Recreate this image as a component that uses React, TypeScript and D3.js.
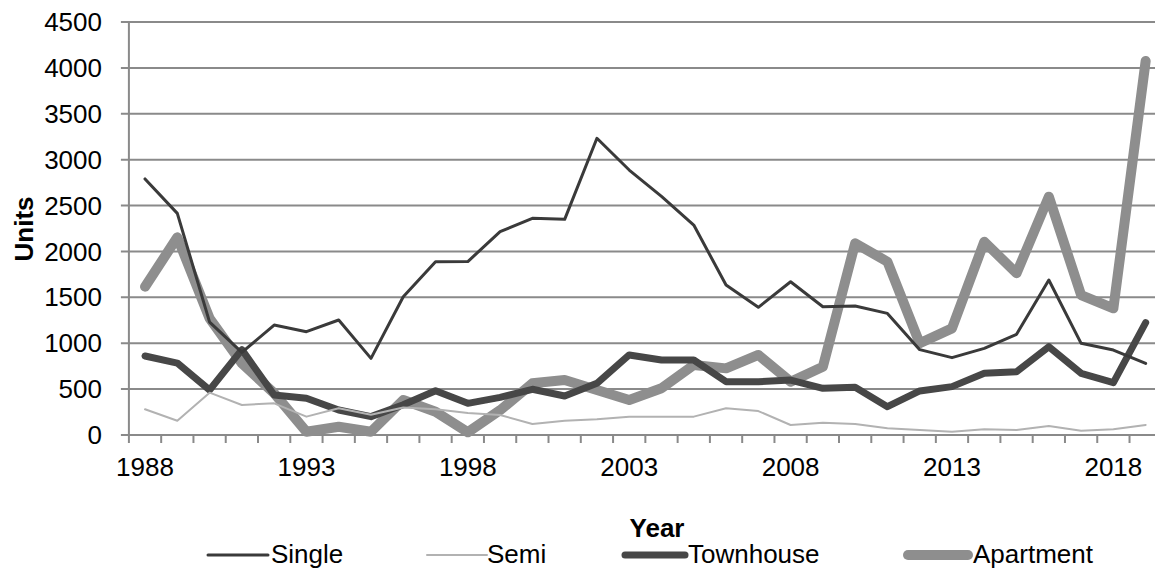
import * as d3 from "d3";

const width = 1155;
const height = 571;
const marginTop = 22;
const marginLeft = 128.9;
const plotRight = 1161.8;
const plotBottom = 435;

const years = d3.range(1988, 2020);
const yTicks = [0, 500, 1000, 1500, 2000, 2500, 3000, 3500, 4000, 4500];
const xLabels = [1988, 1993, 1998, 2003, 2008, 2013, 2018];

const single = [
  2790, 2415, 1230, 900, 1198, 1126, 1253, 835, 1507, 1888, 1890, 2215, 2361,
  2350, 3233, 2887, 2600, 2288, 1634, 1391, 1670, 1398, 1405, 1325, 930, 843,
  944, 1097, 1689, 999, 926, 781,
];
const semi = [
  280, 156, 461, 327, 345, 200, 291, 220, 300, 280, 240, 218, 120, 156, 171,
  200, 200, 200, 291, 261, 109, 134, 120, 73, 54, 36, 62, 54, 98, 47, 62, 109,
];
const townhouse = [
  861, 784, 490, 930, 436, 400, 272, 200, 330, 483, 345, 410, 498, 425, 563,
  872, 817, 817, 581, 581, 599, 509, 520, 309, 480, 527, 672, 690, 962, 672,
  570, 1224,
];
const apartment = [
  1616, 2154, 1271, 780, 455, 36, 90, 36, 381, 254, 30, 270, 563, 599, 490,
  381, 509, 763, 726, 872, 581, 744, 2089, 1888, 999, 1162, 2106, 1762, 2597,
  1525, 1380, 4075,
];

const series = [
  { name: "Single", values: single, color: "#3a3a3a", width: 3, legendX: 208, textX: 271 },
  { name: "Semi", values: semi, color: "#b2b2b2", width: 2, legendX: 427, textX: 487 },
  { name: "Townhouse", values: townhouse, color: "#474747", width: 7, legendX: 625, textX: 688 },
  { name: "Apartment", values: apartment, color: "#8e8e8e", width: 10, legendX: 908, textX: 973 },
];

const font = "'Liberation Sans', Arial, sans-serif";

const App = () => {
  const x = d3
    .scaleLinear()
    .domain([1987.5, 2019.5])
    .range([marginLeft, plotRight]);

  const y = d3.scaleLinear().domain([0, 4500]).range([plotBottom, marginTop]);

  const lineBuilder = d3
    .line<number>()
    .x((_, i) => x(years[i]))
    .y((d) => y(d));

  const tickYears = d3.range(1987.5, 2020, 1);
  const drawOrder = [3, 2, 1, 0];

  return (
    <svg
      width={width}
      height={height}
      viewBox={`0 0 ${width} ${height}`}
      style={{ position: "absolute", left: 0, top: 0, background: "#fff" }}
      fontFamily={font}
    >
      {/* grid */}
      {yTicks.map((t) => (
        <line
          key={t}
          x1={marginLeft - 8}
          x2={plotRight}
          y1={y(t)}
          y2={y(t)}
          stroke="#8a8a8a"
          strokeWidth={2}
        />
      ))}
      {/* y axis */}
      <line x1={marginLeft} x2={marginLeft} y1={marginTop} y2={plotBottom} stroke="#8a8a8a" strokeWidth={2} />
      {tickYears.map((t) => (
        <line
          key={t}
          x1={x(t)}
          x2={x(t)}
          y1={plotBottom}
          y2={plotBottom + 8}
          stroke="#8a8a8a"
          strokeWidth={2}
        />
      ))}
      {yTicks.map((t) => (
        <text
          key={t}
          x={102}
          y={y(t)}
          dy="0.35em"
          textAnchor="end"
          fontSize={26}
          fill="#000"
        >
          {t}
        </text>
      ))}
      {xLabels.map((t) => (
        <text key={t} x={x(t)} y={476} textAnchor="middle" fontSize={26} fill="#000">
          {t}
        </text>
      ))}

      {drawOrder.map((k) => {
        const s = series[k];
        return (
          <path
            key={s.name}
            d={lineBuilder(s.values) as string}
            fill="none"
            stroke={s.color}
            strokeWidth={s.width}
            strokeLinejoin="round"
            strokeLinecap="round"
          />
        );
      })}

      <text
        transform="translate(33, 229) rotate(-90)"
        textAnchor="middle"
        fontSize={26}
        fontWeight="bold"
      >
        Units
      </text>
      <text x={657} y={537} textAnchor="middle" fontSize={26} fontWeight="bold">
        Year
      </text>

      {series.map((s) => (
        <g key={s.name}>
          <line
            x1={s.legendX}
            x2={s.legendX + 60}
            y1={555}
            y2={555}
            stroke={s.color}
            strokeWidth={s.width}
            strokeLinecap="round"
          />
          <text x={s.textX} y={563} fontSize={26} fill="#000">
            {s.name}
          </text>
        </g>
      ))}
    </svg>
  );
};

export default App;
